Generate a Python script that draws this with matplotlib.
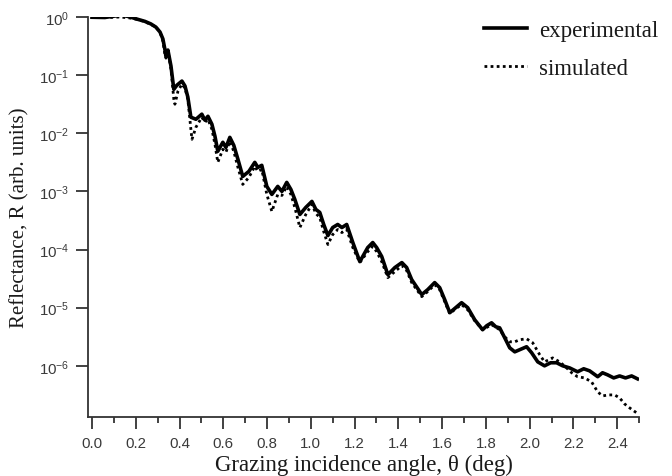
import matplotlib
matplotlib.use("Agg")
import matplotlib.pyplot as plt
from matplotlib.ticker import MultipleLocator, FixedLocator, LogFormatterSciNotation

# experimental reflectance curve
exp_theta = [0.000, 0.059, 0.105, 0.137, 0.174, 0.210, 0.242, 0.269, 0.292, 0.311,
             0.324, 0.333, 0.338, 0.347, 0.361, 0.374, 0.388, 0.411, 0.425, 0.438,
             0.452, 0.475, 0.502, 0.516, 0.530, 0.548, 0.562, 0.575, 0.598, 0.612,
             0.630, 0.648, 0.667, 0.689, 0.717, 0.744, 0.758, 0.776, 0.799, 0.822,
             0.849, 0.868, 0.890, 0.909, 0.927, 0.950, 0.977, 1.005, 1.023, 1.041,
             1.059, 1.078, 1.100, 1.123, 1.142, 1.164, 1.192, 1.224, 1.260, 1.283,
             1.301, 1.324, 1.352, 1.384, 1.416, 1.438, 1.461, 1.507, 1.534, 1.566,
             1.589, 1.612, 1.635, 1.662, 1.689, 1.717, 1.749, 1.785, 1.804, 1.826,
             1.845, 1.863, 1.886, 1.909, 1.932, 1.954, 1.986, 2.009, 2.037, 2.068,
             2.096, 2.123, 2.151, 2.183, 2.219, 2.247, 2.274, 2.311, 2.333, 2.356,
             2.384, 2.411, 2.438, 2.466, 2.493]
exp_R = [0.99, 0.98, 1.04, 1.08, 1.0, 0.91, 0.84, 0.76, 0.67, 0.55,
         0.42, 0.28, 0.21, 0.27, 0.143, 0.057, 0.067, 0.079, 0.065, 0.042,
         0.0189, 0.0174, 0.0213, 0.0168, 0.0196, 0.0143, 0.00888, 0.0049, 0.0070, 0.0057,
         0.0085, 0.0062, 0.00356, 0.00181, 0.00221, 0.00316, 0.00259, 0.00281, 0.00122, 0.000888,
         0.00122, 0.0010, 0.00143, 0.00108, 0.000728, 0.000401, 0.00053, 0.000673, 0.00049, 0.000435,
         0.00027, 0.000174, 0.000239, 0.00027, 0.000239, 0.00027, 0.000132, 6.2e-5, 1.08e-4, 1.32e-4,
         1.08e-4, 7.6e-5, 3.7e-5, 4.9e-5, 5.97e-5, 4.9e-5, 3.04e-5, 1.68e-5, 2.04e-5, 2.7e-5,
         2.21e-5, 1.37e-5, 8.2e-6, 1.0e-5, 1.22e-5, 1.0e-5, 6.2e-6, 4.18e-6, 4.9e-6, 5.5e-6,
         4.7e-6, 4.5e-6, 3.04e-6, 2.04e-6, 1.74e-6, 1.89e-6, 2.13e-6, 1.68e-6, 1.17e-6, 1.0e-6,
         1.13e-6, 1.13e-6, 1.0e-6, 9.2e-7, 7.9e-7, 8.9e-7, 8.2e-7, 6.5e-7, 7.6e-7, 7.0e-7,
         6.2e-7, 6.7e-7, 6.2e-7, 6.7e-7, 5.97e-7]

# simulated reflectance curve
sim_theta = [0.000, 0.082, 0.128, 0.174, 0.219, 0.265, 0.292, 0.311, 0.324, 0.333,
             0.338, 0.347, 0.361, 0.374, 0.379, 0.393, 0.411, 0.425, 0.438, 0.452,
             0.457, 0.475, 0.502, 0.516, 0.530, 0.548, 0.562, 0.575, 0.598, 0.612,
             0.630, 0.648, 0.667, 0.689, 0.717, 0.744, 0.758, 0.776, 0.799, 0.822,
             0.849, 0.868, 0.890, 0.909, 0.927, 0.950, 0.977, 1.005, 1.023, 1.041,
             1.059, 1.078, 1.100, 1.123, 1.142, 1.164, 1.192, 1.224, 1.260, 1.283,
             1.301, 1.324, 1.352, 1.384, 1.416, 1.438, 1.461, 1.507, 1.534, 1.566,
             1.589, 1.612, 1.635, 1.662, 1.689, 1.717, 1.749, 1.785, 1.826, 1.863,
             1.886, 1.909, 1.932, 1.954, 1.986, 2.014, 2.046, 2.068, 2.105, 2.137,
             2.164, 2.192, 2.219, 2.251, 2.283, 2.311, 2.333, 2.361, 2.388, 2.411,
             2.434, 2.457, 2.489]
sim_R = [0.98, 0.98, 1.0, 0.96, 0.89, 0.76, 0.67, 0.55, 0.385, 0.23,
         0.196, 0.26, 0.127, 0.0386, 0.0316, 0.053, 0.070, 0.0597, 0.0386, 0.0117,
         0.00788, 0.0127, 0.0189, 0.0155, 0.0174, 0.0117, 0.00646, 0.00316, 0.0053, 0.0047,
         0.00728, 0.0049, 0.00259, 0.00132, 0.00174, 0.0027, 0.00221, 0.00239, 0.000888, 0.000452,
         0.000888, 0.000853, 0.00122, 0.000888, 0.00053, 0.000239, 0.000401, 0.000597, 0.000418, 0.000356,
         0.000204, 0.000122, 0.000181, 0.000221, 0.000196, 0.000221, 0.000108, 5.97e-5, 9.2e-5, 1.13e-4,
         9.2e-5, 6.2e-5, 3.29e-5, 4.18e-5, 5.3e-5, 4.35e-5, 2.7e-5, 1.55e-5, 1.89e-5, 2.49e-5,
         2.04e-5, 1.27e-5, 7.9e-6, 9.6e-6, 1.13e-5, 9.2e-6, 5.97e-6, 4.18e-6, 5.1e-6, 4.18e-6,
         3.16e-6, 2.59e-6, 2.59e-6, 2.81e-6, 2.92e-6, 2.49e-6, 1.55e-6, 1.17e-6, 1.37e-6, 1.17e-6,
         9.6e-7, 7.6e-7, 6.5e-7, 6.2e-7, 5.3e-7, 3.56e-7, 3.04e-7, 3.16e-7, 3.16e-7, 2.81e-7,
         2.21e-7, 1.89e-7, 1.55e-7]

y_ticks = [1e0, 1e-1, 1e-2, 1e-3, 1e-4, 1e-5, 1e-6]

plt.rcParams['font.family'] = ['Liberation Sans', 'DejaVu Sans']
serif = ['Liberation Serif', 'DejaVu Serif']
ink = '#1a1a1a'

fig = plt.figure(figsize=(6.72, 4.77), dpi=100)
ax = fig.add_axes([0.131, 0.1237, 0.820, 0.8386])

ax.plot(exp_theta, exp_R, color='black', lw=2.6, solid_joinstyle='round', label='experimental')
ax.plot(sim_theta, sim_R, color='black', lw=2.0, dashes=(1, 1.2), label='simulated')

ax.set_yscale('log')
ax.set_xlim(-0.018, 2.5)
ax.set_ylim(10 ** -6.88, 1.0)

ax.xaxis.set_major_locator(FixedLocator([0.0, 0.2, 0.4, 0.6, 0.8, 1.0, 1.2, 1.4, 1.6, 1.8, 2.0, 2.2, 2.4]))
ax.xaxis.set_minor_locator(MultipleLocator(0.1))
ax.xaxis.set_major_formatter(matplotlib.ticker.FormatStrFormatter('%.1f'))
ax.yaxis.set_major_locator(FixedLocator(y_ticks))
ax.yaxis.set_minor_locator(FixedLocator([]))
ax.yaxis.set_major_formatter(LogFormatterSciNotation())

for s in ['top', 'right']:
    ax.spines[s].set_visible(False)
for s in ['left', 'bottom']:
    ax.spines[s].set_linewidth(1.3)
    ax.spines[s].set_color('#333333')

ax.tick_params(which='major', length=8.5, width=1.3, color='#333333', labelsize=10.8,
               labelcolor='#3a3a3a', pad=5)
ax.tick_params(which='minor', length=4.5, width=1.3, color='#333333')

ax.set_xlabel('Grazing incidence angle, θ (deg)', family=serif, fontsize=16.5, color=ink, labelpad=3)
ax.set_ylabel('Reflectance, R (arb. units)', family=serif, fontsize=15, color=ink, labelpad=7)

leg = ax.legend(loc='upper right', bbox_to_anchor=(658 / 672, 1 - 21 / 477),
                bbox_transform=fig.transFigure, frameon=False, borderpad=0, borderaxespad=0,
                handlelength=1.85, handletextpad=0.52, labelspacing=0.75,
                prop={'family': serif, 'size': 16.5})
for t in leg.get_texts():
    t.set_color(ink)

fig.savefig('out.png', dpi=100)
